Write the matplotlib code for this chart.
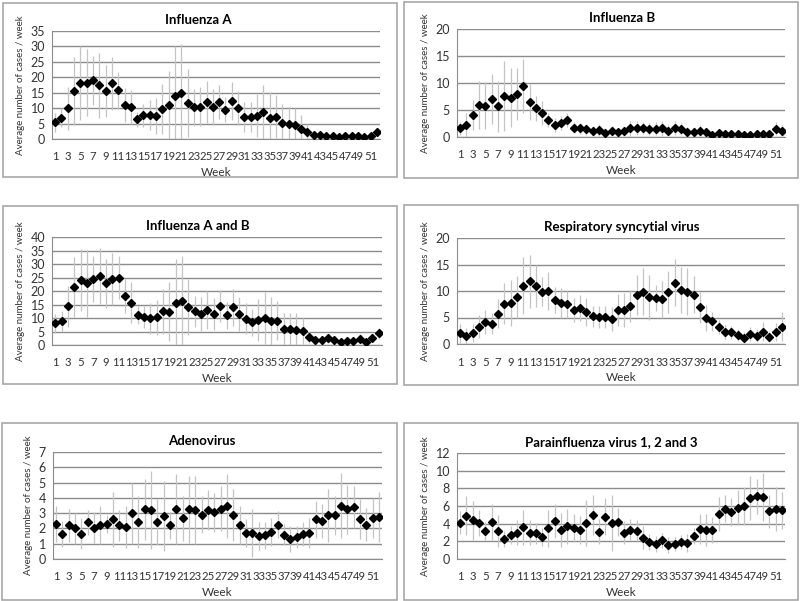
import numpy as np
import matplotlib
matplotlib.use("Agg")
import matplotlib.pyplot as plt
from matplotlib.patches import Rectangle

plt.rcParams['font.family'] = ['Lato', 'DejaVu Sans']

weeks = np.arange(1, 53)
tick_weeks = list(range(1, 52, 2))

# Influenza A
flu_a = [5.4, 6.9, 10.0, 15.5, 18.3, 18.3, 19.0, 17.4, 15.5, 18.0, 15.8, 11.1, 10.3,
         6.4, 7.7, 7.7, 7.5, 9.7, 11.0, 14.0, 14.8, 11.8, 10.3, 10.5, 12.0, 10.4,
         12.1, 9.5, 12.2, 9.9, 7.2, 7.2, 7.6, 8.6, 6.8, 7.2, 5.2, 4.8, 4.5, 3.4,
         2.3, 1.2, 1.4, 1.0, 1.1, 0.7, 1.1, 0.9, 0.9, 0.5, 1.1, 2.4]
flu_a_sd = [3.0, 3.0, 7.0, 11.0, 12.0, 11.0, 8.0, 10.5, 8.5, 8.5, 6.0, 5.5, 5.5,
            2.5, 3.8, 4.8, 5.8, 8.0, 11.0, 16.0, 16.0, 11.0, 6.0, 6.3, 6.8, 5.8,
            5.5, 4.0, 6.2, 5.5, 4.8, 4.8, 7.0, 9.0, 8.5, 7.0, 6.0, 5.5, 5.5, 4.4,
            2.5, 1.0, 1.0, 0.8, 0.8, 0.6, 0.8, 0.6, 0.6, 0.5, 0.8, 1.2]

# Influenza B
flu_b = [1.6, 2.2, 4.1, 5.9, 5.8, 7.0, 5.7, 7.6, 7.3, 7.9, 9.5, 6.5, 5.3,
         4.4, 3.2, 2.2, 2.6, 3.1, 1.7, 1.6, 1.4, 1.1, 1.3, 0.8, 1.1, 0.9,
         1.1, 1.6, 1.7, 1.6, 1.5, 1.5, 1.6, 1.2, 1.6, 1.5, 0.9, 0.9, 1.1, 0.9,
         0.3, 0.7, 0.6, 0.5, 0.5, 0.3, 0.3, 0.5, 0.6, 0.6, 1.5, 1.2]
flu_b_sd = [1.2, 2.2, 2.8, 4.5, 4.3, 4.6, 4.7, 6.5, 5.4, 4.8, 5.0, 3.3, 2.3,
            2.2, 1.3, 1.3, 1.3, 1.3, 1.0, 1.0, 1.0, 1.0, 1.2, 0.8, 0.9, 0.8,
            0.9, 1.4, 1.3, 1.1, 1.1, 1.2, 1.4, 1.1, 1.3, 1.1, 0.9, 0.9, 1.1, 0.8,
            0.4, 0.6, 0.6, 0.5, 0.5, 0.4, 0.4, 0.5, 0.6, 0.6, 1.2, 1.1]

# Influenza A and B
flu_ab = [8.0, 8.9, 14.3, 21.5, 24.0, 22.8, 24.5, 25.6, 22.8, 24.5, 25.0, 18.0, 15.7,
          11.1, 10.4, 9.9, 10.2, 12.5, 12.3, 15.7, 16.3, 14.0, 12.5, 11.5, 13.0, 11.5,
          14.4, 11.0, 14.0, 11.4, 9.7, 8.5, 9.3, 10.0, 8.8, 9.0, 5.8, 5.8, 5.5, 5.2,
          2.8, 1.9, 2.0, 2.6, 2.0, 1.0, 1.6, 1.6, 2.4, 1.0, 2.7, 4.3]
flu_ab_sd = [3.5, 3.8, 7.5, 11.0, 11.5, 12.5, 8.5, 10.5, 9.0, 9.5, 7.8, 6.3, 7.7,
             3.5, 4.0, 5.8, 6.5, 8.3, 11.0, 16.0, 16.5, 10.3, 5.8, 6.3, 7.0, 6.0,
             6.0, 5.0, 6.8, 6.3, 5.8, 5.0, 7.7, 9.5, 9.0, 7.3, 6.0, 6.0, 6.3, 4.7,
             2.0, 1.5, 1.5, 1.7, 1.3, 1.0, 1.2, 1.2, 1.5, 1.0, 1.5, 2.0]

# Respiratory syncytial virus
rsv = [2.0, 1.5, 2.1, 3.3, 4.1, 3.8, 5.7, 7.6, 7.7, 8.9, 11.0, 11.8, 11.0,
       9.9, 10.0, 8.3, 7.8, 7.5, 6.4, 6.8, 6.0, 5.2, 5.1, 5.1, 4.7, 6.4,
       6.4, 7.1, 9.3, 9.9, 8.8, 8.7, 8.4, 9.8, 11.6, 10.2, 9.9, 9.3, 6.9, 4.9,
       4.3, 3.2, 2.3, 2.2, 1.7, 1.2, 1.9, 1.6, 2.3, 1.4, 2.3, 3.3]
rsv_sd = [1.8, 1.5, 1.7, 2.2, 2.3, 2.0, 2.7, 3.9, 4.3, 4.0, 5.4, 5.0, 4.0,
          2.8, 3.5, 2.4, 2.8, 2.5, 2.3, 2.5, 2.6, 2.0, 2.0, 2.0, 2.2, 3.0,
          3.2, 3.0, 3.8, 4.5, 4.3, 2.5, 3.5, 4.0, 4.4, 4.3, 4.5, 3.5, 2.9, 2.5,
          1.8, 1.3, 1.3, 1.2, 1.1, 1.0, 1.3, 1.2, 1.8, 1.1, 1.7, 2.7]

# Adenovirus
adeno = [2.3, 1.65, 2.2, 2.0, 1.65, 2.4, 2.05, 2.25, 2.3, 2.6, 2.2, 2.1, 3.0,
         2.4, 3.25, 3.2, 2.4, 2.8, 2.2, 3.25, 2.65, 3.25, 3.2, 2.9, 3.2, 3.05,
         3.3, 3.45, 2.9, 2.25, 1.7, 1.7, 1.5, 1.55, 1.75, 2.25, 1.6, 1.3, 1.45, 1.65,
         1.7, 2.6, 2.5, 2.85, 2.85, 3.5, 3.25, 3.4, 2.6, 2.25, 2.7, 2.75]
adeno_sd = [1.2, 0.85, 1.1, 1.0, 1.0, 0.8, 1.0, 1.25, 0.6, 1.8, 1.0, 1.35, 2.0,
            1.7, 2.0, 2.55, 1.5, 2.3, 0.9, 2.3, 1.5, 2.2, 2.2, 1.2, 1.3, 1.3,
            1.5, 2.1, 1.7, 1.25, 0.9, 1.6, 0.9, 0.9, 0.9, 0.9, 0.7, 0.85, 0.7, 0.8,
            1.0, 1.2, 1.1, 1.75, 1.25, 2.15, 1.6, 1.4, 1.3, 1.1, 1.3, 1.65]

# Parainfluenza virus 1, 2 and 3
para = [4.1, 4.9, 4.4, 4.1, 3.2, 4.2, 3.2, 2.3, 2.7, 3.0, 3.6, 3.0, 2.9,
        2.5, 3.5, 4.3, 3.3, 3.7, 3.5, 3.3, 4.1, 5.0, 3.1, 4.8, 4.1, 4.2,
        3.0, 3.3, 3.2, 2.4, 1.9, 1.7, 2.1, 1.6, 1.7, 1.9, 1.8, 2.6, 3.4, 3.3,
        3.3, 5.1, 5.7, 5.3, 5.8, 6.0, 6.9, 7.1, 7.0, 5.4, 5.7, 5.5]
para_sd = [1.3, 2.2, 2.2, 1.5, 1.0, 2.0, 1.8, 0.9, 1.0, 1.4, 2.0, 1.4, 1.2,
           1.0, 2.1, 1.9, 1.9, 2.0, 1.6, 1.6, 2.6, 2.3, 1.4, 2.1, 3.2, 1.6,
           1.3, 1.2, 1.2, 1.3, 0.9, 0.9, 0.9, 0.9, 0.8, 0.8, 1.0, 0.9, 1.7, 1.8,
           1.5, 1.9, 1.5, 1.6, 2.0, 2.2, 2.5, 2.0, 2.7, 1.9, 2.5, 2.1]

panels = [
    ("Influenza A", flu_a, flu_a_sd, 35, 5),
    ("Influenza B", flu_b, flu_b_sd, 20, 5),
    ("Influenza A and B", flu_ab, flu_ab_sd, 40, 5),
    ("Respiratory syncytial virus", rsv, rsv_sd, 20, 5),
    ("Adenovirus", adeno, adeno_sd, 7, 1),
    ("Parainfluenza virus 1, 2 and 3", para, para_sd, 12, 2),
]

W, H = 800, 601
fig = plt.figure(figsize=(W / 100, H / 100), dpi=100)

# chart frames and plot areas in pixels (left, top, right, bottom)
frames = [(3, 3, 397, 177), (404, 2, 798, 178),
          (3, 206, 397, 384), (404, 205, 798, 385),
          (2, 423, 397, 600), (404, 423, 798, 600)]
areas = [(52, 31, 380, 139), (457, 29, 785, 137),
         (52, 237, 382, 345), (457, 238, 785, 344),
         (53, 452, 382, 559), (457, 453, 785, 559)]
title_cx = [198, 622, 198, 622, 202, 611]

for (l, t, r, b) in frames:
    fig.patches.append(Rectangle((l / W, 1 - b / H), (r - l) / W, (b - t) / H,
                                 transform=fig.transFigure, fill=False,
                                 edgecolor='#a8a8a8', lw=1.2))

for (title, vals, sd, ymax, step), (l, t, r, b), cx in zip(panels, areas, title_cx):
    ax = fig.add_axes([l / W, 1 - b / H, (r - l) / W, (b - t) / H])
    ax.errorbar(weeks, vals, yerr=sd, fmt='none', ecolor='#c4c4c4', elinewidth=0.9,
                capsize=0, zorder=2)
    ax.plot(weeks, vals, 'D', color='black', markersize=3.8, zorder=3)
    ax.set_xlim(0.5, 52.5)
    ax.set_ylim(0, ymax)
    ax.set_yticks(np.arange(0, ymax + 0.01, step))
    ax.set_xticks(tick_weeks)
    ax.set_xticklabels([str(w) for w in tick_weeks])
    ax.grid(axis='y', color='#8c8c8c', lw=1.0)
    ax.set_axisbelow(True)
    for s in ['top', 'right']:
        ax.spines[s].set_visible(False)
    ax.spines['left'].set_color('#8c8c8c')
    ax.spines['bottom'].set_color('#8c8c8c')
    ax.tick_params(axis='both', length=0, labelsize=8.2, colors='#333333')
    ax.tick_params(axis='y', labelsize=9, pad=5)
    ax.tick_params(axis='x', pad=9)
    ax.set_title(title, fontsize=9.5, fontweight='bold', pad=5,
                 x=(cx - l) / (r - l))
    ax.set_xlabel("Week", fontsize=8.5, color='#333333', labelpad=3)
    ax.set_ylabel("Average number of cases / week", fontsize=7, color='#333333',
                  labelpad=4)

plt.savefig("out.png", dpi=100)
